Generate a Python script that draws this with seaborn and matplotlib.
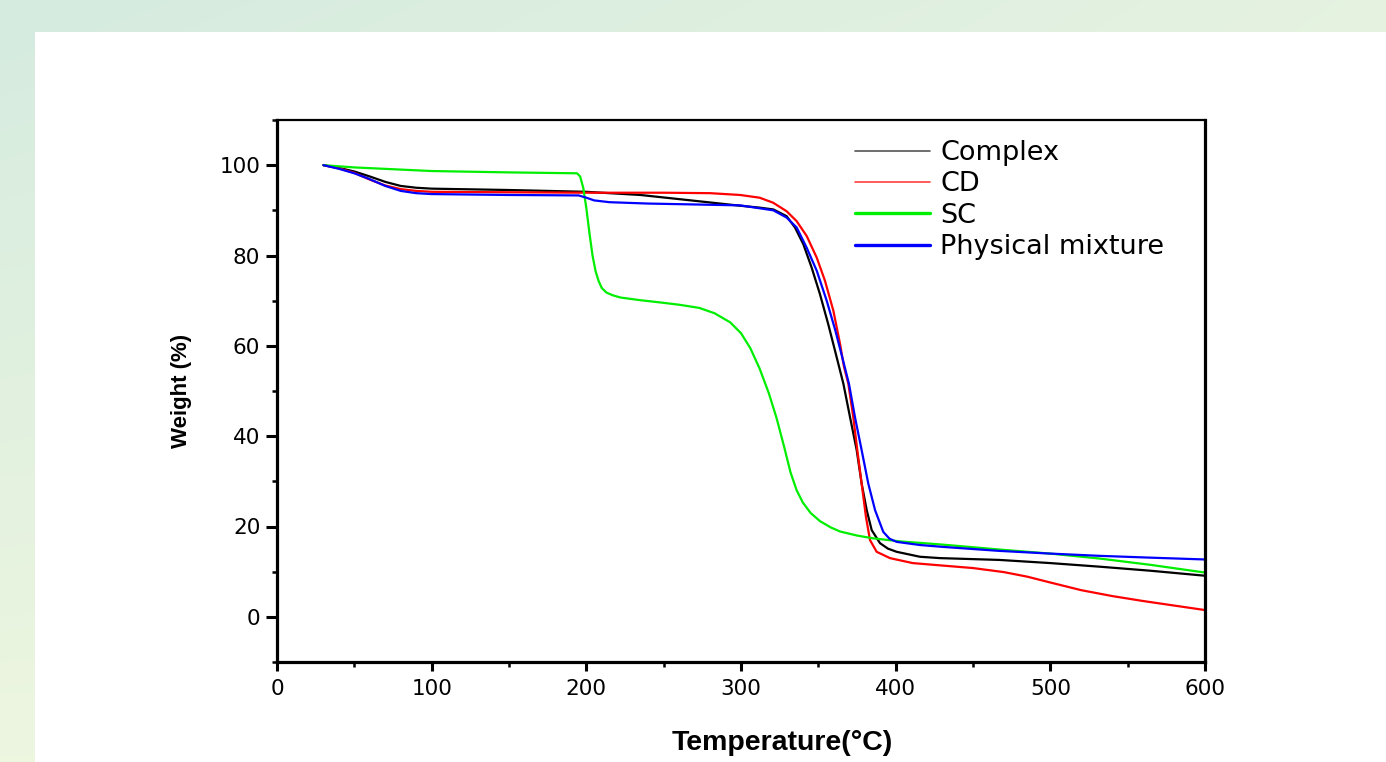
import numpy as np
import pandas as pd
import matplotlib
matplotlib.use("Agg")
import matplotlib.pyplot as plt
from matplotlib.ticker import MultipleLocator
from matplotlib.patches import Rectangle
from matplotlib.lines import Line2D
import seaborn as sns

# ---------------- data ----------------
complex_T = [30, 40, 50, 60, 70, 80, 90, 100, 150, 200, 235, 273, 300, 312, 320.9, 329.5, 334.9,
             340.3, 345.7, 351, 356.4, 360.8, 366.2, 370.5, 374.8, 378, 381.3, 384.5, 389.9, 395,
             400.6, 415.7, 428.7, 467, 500, 532, 565, 600]
complex_W = [100, 99.4, 98.6, 97.5, 96.3, 95.4, 95.0, 94.8, 94.5, 94.1, 93.4, 92.0, 91.0, 90.6, 90.2, 88.7, 86.2,
             82.5, 77.3, 71.5, 64.8, 58.9, 51.6, 44.2, 36.9, 29.5, 23.6, 19.2, 16.3, 15.1,
             14.4, 13.3, 13.0, 12.6, 11.9, 11.1, 10.2, 9.1]

cd_T = [30, 40, 50, 60, 70, 80, 90, 100, 150, 200, 250, 280, 299.4, 312, 320.7, 329.5, 336,
        342.5, 349, 354.3, 359.7, 364, 366.5, 369.4, 372.6, 375.2, 378, 380.8, 383.4, 387.7,
        396.3, 411, 425, 450, 470, 485, 500, 520, 540, 560, 580, 600]
cd_W = [100, 99.3, 98.3, 96.8, 95.5, 94.7, 94.3, 94.1, 94.0, 93.9, 93.9, 93.8, 93.4, 92.8, 91.7, 89.8, 87.6,
        84.3, 79.5, 74.4, 67.8, 60.5, 55.5, 51.6, 44.2, 36.9, 29.5, 22.1, 17.0, 14.4,
        13.0, 11.9, 11.5, 10.8, 9.9, 8.9, 7.6, 5.9, 4.6, 3.5, 2.5, 1.5]

sc_T = [30, 50, 100, 150, 194, 196, 198, 200, 202, 204, 206, 208, 210, 213, 217, 222, 235, 248,
        260, 273, 283, 293, 300, 306, 312, 318, 323, 328, 332, 336, 340, 345, 351, 358, 364,
        375, 385, 403, 430, 467, 500, 532, 565, 600]
sc_W = [100, 99.5, 98.7, 98.4, 98.2, 97.5, 95.0, 90.5, 85.0, 80.0, 76.5, 74.3, 72.8, 71.8, 71.2, 70.7, 70.1, 69.6,
        69.1, 68.4, 67.2, 65.2, 62.8, 59.5, 55.0, 49.5, 44.0, 37.5, 32.0, 28.0, 25.3, 23.0, 21.2, 19.8, 18.9,
        18.0, 17.4, 16.7, 16.0, 14.9, 14.0, 12.9, 11.5, 9.8]

pm_T = [30, 40, 50, 60, 70, 80, 90, 100, 150, 195, 200, 205, 215, 240, 270, 299.4, 320.9, 329.5,
        336, 342.5, 349, 355.4, 361, 364.4, 369.8, 373.7, 378, 382.3, 386.7, 392, 396, 400.6,
        415.7, 430, 467, 500, 532, 565, 600]
pm_W = [100, 99.2, 98.2, 96.9, 95.4, 94.3, 93.8, 93.6, 93.4, 93.3, 92.8, 92.2, 91.8, 91.5, 91.3, 91.1, 90.0, 88.4,
        86.2, 81.7, 76.6, 70.0, 63.4, 58.9, 51.6, 44.2, 36.9, 29.5, 23.6, 18.8, 17.3, 16.6,
        15.9, 15.5, 14.6, 14.0, 13.5, 13.1, 12.7]

series_names = ["Complex", "CD", "SC", "Physical mixture"]
series_T = [complex_T, cd_T, sc_T, pm_T]
series_W = [complex_W, cd_W, sc_W, pm_W]

x_ticks = [0, 100, 200, 300, 400, 500, 600]
y_ticks = [0, 20, 40, 60, 80, 100]

frames = []
for name, T, W in zip(series_names, series_T, series_W):
    frames.append(pd.DataFrame({"Temperature": T, "Weight": W, "Sample": name}))
df = pd.concat(frames, ignore_index=True)

# ---------------- style ----------------
sns.set_theme(style="ticks")
plt.rcParams["font.family"] = ["DejaVu Sans"]
plt.rcParams["text.color"] = "black"
plt.rcParams["axes.labelcolor"] = "black"
plt.rcParams["xtick.color"] = "black"
plt.rcParams["ytick.color"] = "black"

fig = plt.figure(figsize=(13.86, 7.62), dpi=100)

# light green gradient background with white panel
H, Wd = 762, 1386
yy, xx = np.mgrid[0:H, 0:Wd]
fx = xx / (Wd - 1)
fy = yy / (H - 1)
c00 = np.array([0.835, 0.922, 0.875])
c10 = np.array([0.900, 0.950, 0.880])
c01 = np.array([0.930, 0.965, 0.875])
c11 = np.array([0.940, 0.970, 0.900])
img = (c00 * ((1 - fx) * (1 - fy))[..., None] + c10 * (fx * (1 - fy))[..., None]
       + c01 * ((1 - fx) * fy)[..., None] + c11 * (fx * fy)[..., None])
fig.figimage(img, xo=0, yo=0, origin="upper", zorder=0)
fig.patches.append(Rectangle((35 / 1386, 0), 1 - 35 / 1386, (762 - 32) / 762,
                             transform=fig.transFigure, facecolor="white",
                             edgecolor="none", zorder=0.5))

ax = fig.add_axes([277 / 1386, 100 / 762, (1205 - 277) / 1386, (662 - 120) / 762])
ax.set_facecolor("white")
ax.set_zorder(2)

palette = {"Complex": "#000000", "CD": "#ff0000", "SC": "#00ee00", "Physical mixture": "#0000ff"}
sns.lineplot(data=df, x="Temperature", y="Weight", hue="Sample", palette=palette,
             hue_order=series_names, sort=False, estimator=None, linewidth=1.6, ax=ax,
             legend=False)

ax.set_xlim(0, 600)
ax.set_ylim(-10, 110)
ax.set_xticks(x_ticks)
ax.set_yticks(y_ticks)
ax.xaxis.set_minor_locator(MultipleLocator(50))
ax.yaxis.set_minor_locator(MultipleLocator(10))
ax.tick_params(axis="both", which="major", direction="out", width=2.2, labelsize=15.5)
ax.tick_params(axis="x", which="major", length=6.5, pad=6)
ax.tick_params(axis="y", which="major", length=8, pad=4)
ax.tick_params(axis="both", which="minor", direction="out", length=3.5, width=1.8)
ax.tick_params(top=False, right=False, which="both")

for side in ["left", "bottom", "right"]:
    ax.spines[side].set_linewidth(2.3)
    ax.spines[side].set_color("black")
ax.spines["top"].set_linewidth(1.6)
ax.spines["top"].set_color("black")

ax.set_xlabel("Temperature(°C)", fontsize=20.5, fontweight="bold",
              family=["Liberation Sans", "DejaVu Sans"])
ax.xaxis.set_label_coords((782 - 277) / 928, -0.125)
ax.set_ylabel("Weight (%)", fontsize=16, fontweight="bold",
              family=["Liberation Sans", "DejaVu Sans"])
ax.yaxis.set_label_coords(-0.092, 0.5)

# legend
handles = [
    Line2D([], [], color="#555555", lw=1.2),
    Line2D([], [], color="#ff4040", lw=1.2),
    Line2D([], [], color="#00ee00", lw=2.4),
    Line2D([], [], color="#0000ff", lw=2.4),
]
leg = ax.legend(handles, series_names, loc="upper left",
                bbox_to_anchor=((855 - 277) / 928, (662 - 140) / 542),
                frameon=False, fontsize=19.5, handlelength=2.77, handletextpad=0.37,
                labelspacing=0.2, borderaxespad=0, borderpad=0)

fig.savefig("out.png", dpi=100)
